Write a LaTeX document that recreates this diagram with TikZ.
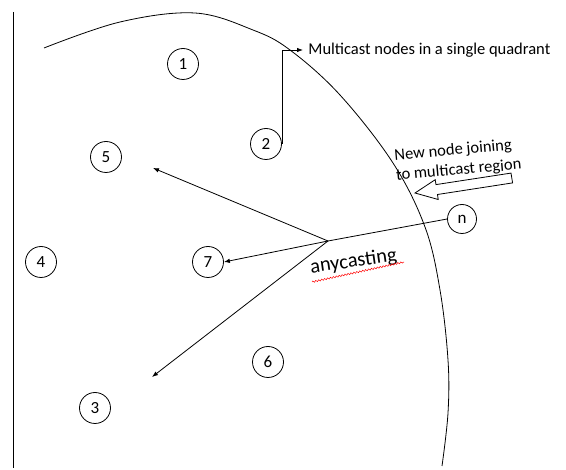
\documentclass[tikz,border=0pt]{standalone}
\usepackage{fontspec}
\setmainfont{Carlito}
\usetikzlibrary{arrows.meta, decorations.pathmorphing}

\begin{document}
\begin{tikzpicture}[x=1pt, y=-1pt, line width=0.8pt,
	mnode/.style={draw, circle, minimum size=31pt, inner sep=0pt, font=\fontsize{17}{20}\selectfont},
	ptr/.style={-{Latex[length=6pt, width=4.5pt]}},
	note/.style={font=\fontsize{16.5}{19}\selectfont, inner sep=1pt}]

	\useasboundingbox (0,0) rectangle (566,470);

	%left border of the area
	\draw (13,12) -- (13,468);

	%boundary of the multicast region
	\draw plot[smooth, tension=0.6] coordinates {(44,48) (120,22) (195,13) (253,30) (290,50) (340,95) (393,163) (425,227) (440,290) (448,360) (448,413) (442,466)};

	%nodes
	\node[mnode] (n1) at (183,64) {1};
	\node[mnode] (n2) at (266,144) {2};
	\node[mnode] (n5) at (106,157) {5};
	\node[mnode] (n4) at (41,262) {4};
	\node[mnode] (n7) at (208,262) {7};
	\node[mnode] (n6) at (268,362) {6};
	\node[mnode] (n3) at (95,408) {3};
	\node[mnode, minimum size=29pt] (nn) at (462,219) {n};

	%label for the multicast nodes
	\node[note, anchor=west] (lblquad) at (307,50) {Multicast nodes in a single quadrant};
	\draw[ptr] (n2.east) |- ([xshift=-4pt]lblquad.west);

	%anycast from the joining node
	\coordinate (hub) at (328,241);
	\coordinate (to5) at (153,168);
	\coordinate (to3) at (152,377);
	\draw (nn.west) -- (hub);
	\draw[ptr] (hub) -- (to5);
	\draw[ptr] (hub) -- (n7.east);
	\draw[ptr] (hub) -- (to3);

	\node[note, anchor=west, rotate=8, font=\fontsize{20.5}{22}\selectfont] (lblany) at (309,268) {anycasting};
	\draw[red, line width=0.5pt, decorate, decoration={snake, amplitude=0.8pt, segment length=3pt}] (312,282) -- (404,262);

	%new node joining
	\node[note, anchor=west, align=left, rotate=5, font=\fontsize{16.5}{20}\selectfont] (lbljoin) at (394,166) {New node joining\\to multicast region};
	\draw (415,193) -- (438.2,199.5) -- (437.5,194.5) -- (512.6,182.9) -- (511,173.1) -- (436,184.6) -- (435.2,179.7) -- cycle;

\end{tikzpicture}
\end{document}
